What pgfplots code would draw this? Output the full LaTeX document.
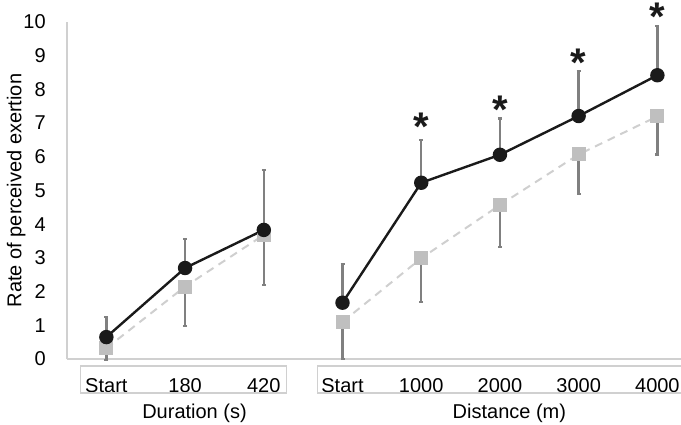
\documentclass[border=0pt]{standalone}
\usepackage{pgfplots}
\pgfplotsset{compat=1.18}
\usepackage{fontspec}
\setmainfont{Liberation Sans}
\definecolor{ptblack}{HTML}{1A1A1A}
\definecolor{ptgray}{HTML}{BFBFBF}
\definecolor{lngray}{HTML}{CFCFCF}
\definecolor{errgray}{HTML}{808080}
\definecolor{axgray}{HTML}{D0D0D0}
\begin{document}
\begin{tikzpicture}
\begin{axis}[
  at={(0,0)}, anchor=south west,
  width=307pt, height=168.5pt, scale only axis,
  xmin=-0.5, xmax=7.3, ymin=0, ymax=10,
  axis x line=bottom, axis y line=left,
  axis line style={draw=axgray, line width=0.6pt, -},
  xtick={0,...,7},
  xticklabels={Start,180,420,Start,1000,2000,3000,4000},
  ytick={0,1,...,10},
  tick style={draw=none},
  font=\fontsize{10}{12}\selectfont,
  x tick label style={anchor=base, yshift=-14.5pt},
  y tick label style={anchor=east, xshift=-5pt},
  /pgf/number format/assume math mode=true,
  ylabel={Rate of perceived exertion},
  every axis y label/.style={at={(axis cs:-1.144,5)}, rotate=90, anchor=center},
  clip=false,
  error bars/y dir=both, error bars/y explicit,
  error bars/error bar style={draw=errgray, solid, line width=1.2pt},
  error bars/error mark options={rotate=90, mark size=1pt, draw=errgray, solid, line width=1.2pt},
]
% grey series (lower SD)
\addplot[lngray, line width=1pt, dash pattern=on 4pt off 3pt,
  mark=square*, mark size=3pt, mark options={solid, draw=ptgray, fill=ptgray},
  error bars/y dir=minus]
  coordinates {(0,0.32) -= (0,0.35) (1,2.15) -= (0,1.17) (2,3.68) -= (0,1.48)};
\addplot[lngray, line width=1pt, dash pattern=on 4pt off 3pt,
  mark=square*, mark size=3pt, mark options={solid, draw=ptgray, fill=ptgray},
  error bars/y dir=minus]
  coordinates {(3,1.10) -= (0,1.10) (4,2.99) -= (0,1.30) (5,4.57) -= (0,1.24) (6,6.07) -= (0,1.17) (7,7.20) -= (0,1.13)};
% black series (upper SD)
\addplot[ptblack, line width=1.2pt,
  mark=*, mark size=3pt, mark options={draw=ptblack, fill=ptblack},
  error bars/y dir=plus]
  coordinates {(0,0.65) += (0,0.60) (1,2.70) += (0,0.86) (2,3.83) += (0,1.78)};
\addplot[ptblack, line width=1.2pt,
  mark=*, mark size=3pt, mark options={draw=ptblack, fill=ptblack},
  error bars/y dir=plus]
  coordinates {(3,1.67) += (0,1.15) (4,5.23) += (0,1.27) (5,6.06) += (0,1.08) (6,7.21) += (0,1.34) (7,8.42) += (0,1.46)};
% significance asterisks
\addplot[draw=none, mark=none, error bars/y dir=none,
  nodes near coords={*},
  every node near coord/.append style={anchor=center, inner sep=0pt,
    font=\fontsize{20}{20}\selectfont\bfseries, text=ptblack}]
  coordinates {(4,6.9) (5,7.4) (6,8.78) (7,10.15)};
% category boxes
\draw[axgray, line width=0.8pt] (axis cs:-0.33,-0.21) rectangle (axis cs:2.29,-1.01);
\draw[axgray, line width=0.8pt] (axis cs:2.68,-0.21) rectangle (axis cs:7.33,-1.01);
\node[anchor=center] at (axis cs:1.12,-1.6) {Duration (s)};
\node[anchor=center] at (axis cs:5.12,-1.6) {Distance (m)};
\end{axis}
\pgfresetboundingbox
\useasboundingbox (-33.5pt,-32.5pt) rectangle (307pt,179.5pt);
\end{tikzpicture}
\end{document}
